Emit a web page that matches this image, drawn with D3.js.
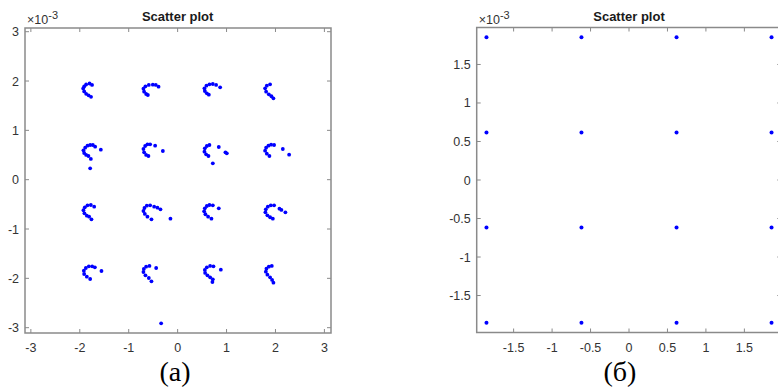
<!DOCTYPE html>
<html>
<head>
<meta charset="utf-8">
<script src="https://cdn.jsdelivr.net/npm/d3@7"></script>
<style>
  body { margin: 0; background: #fff; }
  svg { display: block; }
</style>
</head>
<body>
<svg id="fig" width="778" height="390"></svg>
<script>
// values are in units of 1e-3

// (a) received symbols
const rxRow1 = [
  [-1.75, 1.92], [-1.80, 1.95], [-1.87, 1.93], [-1.91, 1.89], [-1.93, 1.85], [-1.91, 1.79], [-1.87, 1.74], [-1.82, 1.71], [-1.77, 1.68],
  [-0.39, 1.885], [-0.446, 1.92], [-0.507, 1.926], [-0.589, 1.92], [-0.658, 1.893], [-0.699, 1.845], [-0.685, 1.784], [-0.644, 1.737], [-0.609, 1.717],
  [0.787, 1.92], [0.719, 1.94], [0.65, 1.934], [0.589, 1.906], [0.548, 1.853], [0.556, 1.798], [0.597, 1.751], [0.638, 1.723], [0.869, 1.873],
  [1.89, 1.934], [1.823, 1.906], [1.788, 1.853], [1.809, 1.784], [1.864, 1.731], [1.917, 1.691], [1.958, 1.65]
];
const rxRow2 = [
  [-1.686, 0.669], [-1.733, 0.703], [-1.788, 0.703], [-1.843, 0.689], [-1.89, 0.649], [-1.925, 0.596], [-1.911, 0.541], [-1.87, 0.501], [-1.823, 0.48],
  [-1.57, 0.608], [-1.774, 0.42], [-1.788, 0.231],
  [-0.46, 0.689], [-0.562, 0.717], [-0.617, 0.717], [-0.664, 0.683], [-0.699, 0.622], [-0.685, 0.555], [-0.644, 0.501], [-0.597, 0.48], [-0.302, 0.582],
  [0.65, 0.703], [0.597, 0.683], [0.556, 0.636], [0.548, 0.568], [0.582, 0.514], [0.63, 0.48], [0.841, 0.663], [0.977, 0.555], [1.005, 0.535], [0.719, 0.332],
  [1.972, 0.703], [1.911, 0.71], [1.856, 0.689], [1.809, 0.649], [1.788, 0.588], [1.823, 0.527], [1.876, 0.48], [2.15, 0.622], [2.279, 0.507]
];
const rxRow3 = [
  [-1.706, -0.547], [-1.774, -0.513], [-1.843, -0.519], [-1.897, -0.56], [-1.925, -0.62], [-1.905, -0.681], [-1.856, -0.73], [-1.809, -0.75], [-1.762, -0.803],
  [-0.562, -0.519], [-0.63, -0.527], [-0.678, -0.574], [-0.699, -0.635], [-0.67, -0.695], [-0.617, -0.75], [-0.535, -0.803],
  [-0.48, -0.547], [-0.413, -0.568], [-0.351, -0.6], [-0.147, -0.791],
  [0.719, -0.519], [0.65, -0.513], [0.597, -0.533], [0.556, -0.58], [0.542, -0.641], [0.568, -0.701], [0.623, -0.75], [0.691, -0.791], [0.841, -0.58],
  [1.972, -0.519], [1.905, -0.519], [1.843, -0.547], [1.803, -0.6], [1.794, -0.661], [1.835, -0.722], [1.89, -0.762], [1.946, -0.791],
  [2.081, -0.588], [2.121, -0.614], [2.203, -0.661]
];
const rxRow4 = [
  [-1.692, -1.776], [-1.747, -1.756], [-1.815, -1.756], [-1.876, -1.79], [-1.917, -1.845], [-1.911, -1.912], [-1.856, -1.966], [-1.788, -2.013], [-1.557, -1.851],
  [-0.576, -1.749], [-0.644, -1.763], [-0.691, -1.81], [-0.699, -1.871], [-0.658, -1.938], [-0.589, -1.993], [-0.535, -2.06], [-0.439, -1.79],
  [0.732, -1.756], [0.664, -1.749], [0.597, -1.776], [0.556, -1.83], [0.562, -1.891], [0.609, -1.938], [0.664, -1.979], [0.719, -2.019], [0.711, -2.074], [0.883, -1.824],
  [1.925, -1.749], [1.864, -1.763], [1.815, -1.804], [1.803, -1.865], [1.835, -1.926], [1.89, -1.979], [1.931, -2.033], [1.958, -2.088],
  [-0.337, -2.911]
];

// (б) ideal 16-QAM constellation levels
const qamLevels = [-1.853, -0.618, 0.618, 1.853];

const limA = { x: [-3.12, 3.135], y: [-3.108, 3.075] };
const limB = { x: [-1.98, 1.98], y: [-1.98, 1.98] };
const ticksA = [-3, -2, -1, 0, 1, 2, 3];
const ticksB = [-1.5, -1, -0.5, 0, 0.5, 1, 1.5];
const panelTitle = "Scatter plot";
const captions = ["(a)", "(б)"];

const svg = d3.select("#fig");
const axisColor = "#8a8a8a";
const textColor = "#333";

function drawPanel(box, lim, ticks, pts, r, caption) {
  const x = d3.scaleLinear().domain(lim.x).range([box.left, box.right]);
  const y = d3.scaleLinear().domain(lim.y).range([box.bottom, box.top]);
  const g = svg.append("g");

  // points first, box on top
  g.selectAll("circle")
    .data(pts)
    .enter()
    .append("circle")
    .attr("cx", d => x(d[0]))
    .attr("cy", d => y(d[1]))
    .attr("r", r)
    .attr("fill", "#0000ff");

  // tick marks, inside, on all four sides
  const tl = 4;
  ticks.forEach(t => {
    g.append("line").attr("x1", x(t)).attr("x2", x(t)).attr("y1", box.bottom).attr("y2", box.bottom - tl);
    g.append("line").attr("x1", x(t)).attr("x2", x(t)).attr("y1", box.top).attr("y2", box.top + tl);
    g.append("line").attr("y1", y(t)).attr("y2", y(t)).attr("x1", box.left).attr("x2", box.left + tl);
    g.append("line").attr("y1", y(t)).attr("y2", y(t)).attr("x1", box.right).attr("x2", box.right - tl);
  });
  g.selectAll("line").attr("stroke", axisColor).attr("stroke-width", 1);

  g.append("rect")
    .attr("x", box.left).attr("y", box.top)
    .attr("width", box.right - box.left).attr("height", box.bottom - box.top)
    .attr("fill", "none").attr("stroke", axisColor).attr("stroke-width", 1.5);

  // tick labels
  g.selectAll(".xl")
    .data(ticks)
    .enter()
    .append("text")
    .attr("x", d => x(d))
    .attr("y", box.bottom + 19)
    .attr("text-anchor", "middle")
    .text(d => String(d));
  g.selectAll(".yl")
    .data(ticks)
    .enter()
    .append("text")
    .attr("x", box.left - 6)
    .attr("y", d => y(d) + 4.5)
    .attr("text-anchor", "end")
    .text(d => String(d));
  g.selectAll("text")
    .attr("font-family", "Liberation Sans, Arial, sans-serif")
    .attr("font-size", 12.5)
    .attr("fill", textColor);

  // exponent label
  const ex = g.append("text")
    .attr("x", box.left + 2)
    .attr("y", box.top - 4)
    .attr("font-family", "Liberation Sans, Arial, sans-serif")
    .attr("font-size", 12.5)
    .attr("fill", textColor);
  ex.append("tspan").text("×10");
  ex.append("tspan").attr("dy", -5).attr("font-size", 11).text("-3");

  // title
  g.append("text")
    .attr("x", x(0))
    .attr("y", box.top - 7)
    .attr("text-anchor", "middle")
    .attr("font-family", "Liberation Sans, Arial, sans-serif")
    .attr("font-weight", "bold")
    .attr("font-size", 13)
    .attr("fill", "#1a1a1a")
    .text(panelTitle);

  // caption under the panel
  g.append("text")
    .attr("x", caption.cx)
    .attr("y", 381)
    .attr("text-anchor", "middle")
    .attr("font-family", "Liberation Serif, Times New Roman, serif")
    .attr("font-size", 28)
    .attr("fill", "#000")
    .text(caption.text);
}

drawPanel({ left: 25, right: 331, top: 28, bottom: 333 }, limA, ticksA,
  [].concat(rxRow1, rxRow2, rxRow3, rxRow4), 1.9, { cx: 175, text: captions[0] });

drawPanel({ left: 476.7, right: 781.3, top: 27.5, bottom: 332.5 }, limB, ticksB,
  d3.cross(qamLevels, qamLevels), 2, { cx: 620, text: captions[1] });
</script>
</body>
</html>
